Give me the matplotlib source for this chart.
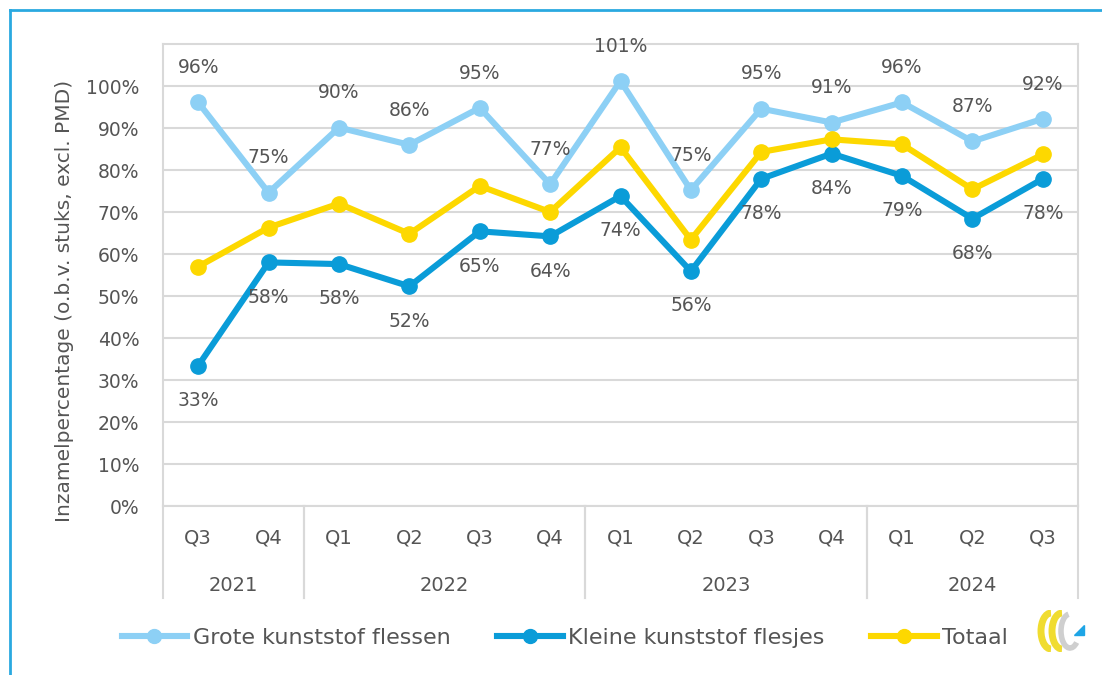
import matplotlib.pyplot as plt
import matplotlib.transforms as mtransforms
from matplotlib.lines import Line2D
from matplotlib.patches import Arc, Polygon


OUTPUT_PATH = 'out.png'
W, H = 1102, 675

QUARTERS = ['Q3', 'Q4', 'Q1', 'Q2', 'Q3', 'Q4', 'Q1', 'Q2', 'Q3', 'Q4', 'Q1', 'Q2', 'Q3']
YEARS = ['2021', '2022', '2023', '2024']
YEAR_SPANS = [(0, 1), (2, 5), (6, 9), (10, 12)]

GROTE = [96.1, 74.6, 90.1, 86.0, 94.8, 76.6, 101.2, 75.2, 94.6, 91.3, 96.1, 86.8, 92.2]
KLEINE = [33.4, 58.0, 57.6, 52.3, 65.4, 64.2, 73.8, 55.9, 77.9, 83.9, 78.6, 68.4, 77.9]
TOTAAL = [57.0, 66.3, 72.0, 64.8, 76.2, 70.0, 85.4, 63.4, 84.3, 87.3, 86.1, 75.4, 83.7]

Y_TICKS = [0, 10, 20, 30, 40, 50, 60, 70, 80, 90, 100]

TEXT = '#555555'
GRID = '#d9d9d9'
C_GROTE = '#8dd0f5'
C_KLEINE = '#0a9cd8'
C_TOTAAL = '#fdd800'
FRAME = '#2aa9e0'


def px(x, y):
    return x / W, 1 - y / H


def build_plot(output_path=OUTPUT_PATH):
    plt.rcParams['font.family'] = 'DejaVu Sans'
    fig = plt.figure(figsize=(W / 100, H / 100), dpi=100)

    left, top = px(163, 44)
    right, bottom = px(1078, 506)
    ax = fig.add_axes([left, bottom, right - left, top - bottom])

    x = list(range(len(QUARTERS)))
    series = [
        ('Grote kunststof flessen', GROTE, C_GROTE, 25),
        ('Kleine kunststof flesjes', KLEINE, C_KLEINE, -25),
        ('Totaal', TOTAAL, C_TOTAAL, None),
    ]
    handles = []
    for name, vals, color, offset in series:
        ax.plot(x, vals, color=color, linewidth=4.4, marker='o', markersize=11,
                solid_joinstyle='round', zorder=3)
        handles.append(Line2D([], [], color=color, linewidth=4.4, marker='o',
                              markersize=10, label=name))
        if offset is None:
            continue
        for xi, v in zip(x, vals):
            ax.annotate(f'{round(v)}%', (xi, v), xytext=(0, offset),
                        textcoords='offset points', ha='center', va='center',
                        fontsize=13.5, color=TEXT, zorder=4)

    ax.set_xlim(-0.5, len(QUARTERS) - 0.5)
    ax.set_ylim(0, 110)
    ax.set_yticks(Y_TICKS)
    ax.set_yticklabels([f'{t}%' for t in Y_TICKS])
    ax.yaxis.grid(True, color=GRID, linewidth=1.5)
    ax.set_axisbelow(True)
    ax.tick_params(axis='y', length=0, pad=17, labelsize=13.5, labelcolor=TEXT)
    ax.set_xticks([])
    for side in ['left', 'right', 'top', 'bottom']:
        ax.spines[side].set_color(GRID)
        ax.spines[side].set_linewidth(1.5)

    # two-level category axis
    trans = mtransforms.blended_transform_factory(ax.transData, ax.transAxes)
    for xi, q in zip(x, QUARTERS):
        ax.text(xi, -0.069, q, transform=trans, ha='center', va='center',
                fontsize=14, color=TEXT)
    for year, (a, b) in zip(YEARS, YEAR_SPANS):
        ax.text((a + b) / 2, -0.171, year, transform=trans, ha='center',
                va='center', fontsize=14, color=TEXT)
        for edge in (a - 0.5, b + 0.5):
            ax.plot([edge, edge], [0, -0.199], transform=trans, color=GRID,
                    linewidth=1.5, clip_on=False)

    fig.text(*px(65, 301), 'Inzamelpercentage (o.b.v. stuks, excl. PMD)',
             rotation=90, ha='center', va='center', fontsize=14.5, color=TEXT)

    leg = fig.legend(handles=handles, loc='center', bbox_to_anchor=px(565, 638),
                     ncol=3, frameon=False, fontsize=16, handlelength=2.95,
                     handletextpad=0.25, columnspacing=2.1)
    for t in leg.get_texts():
        t.set_color(TEXT)

    # outer frame (left and top edges visible)
    fig.add_artist(Line2D([10 / W, 10 / W], [0, 1 - 10 / H], color=FRAME,
                          linewidth=2, transform=fig.transFigure))
    fig.add_artist(Line2D([10 / W, 1], [1 - 10 / H, 1 - 10 / H], color=FRAME,
                          linewidth=2, transform=fig.transFigure))

    # small logo
    lx0, ly0 = px(1034, 652)
    lx1, ly1 = px(1086, 610)
    lax = fig.add_axes([lx0, ly0, lx1 - lx0, ly1 - ly0])
    lax.set_xlim(0, 52)
    lax.set_ylim(0, 42)
    lax.axis('off')
    lax.add_patch(Arc((17, 21), 20, 36, theta1=90, theta2=270, color='#f0dc30', linewidth=5))
    lax.add_patch(Arc((28, 21), 20, 36, theta1=90, theta2=270, color='#f0dc30', linewidth=5))
    lax.add_patch(Arc((36, 21), 18, 34, theta1=95, theta2=300, color='#cfcfcf', linewidth=4))
    lax.add_patch(Polygon([[40, 17], [50, 17], [50, 27]], closed=True, color='#1ea5e6'))

    fig.savefig(output_path, dpi=100)
    return fig, ax


if __name__ == '__main__':
    build_plot()
